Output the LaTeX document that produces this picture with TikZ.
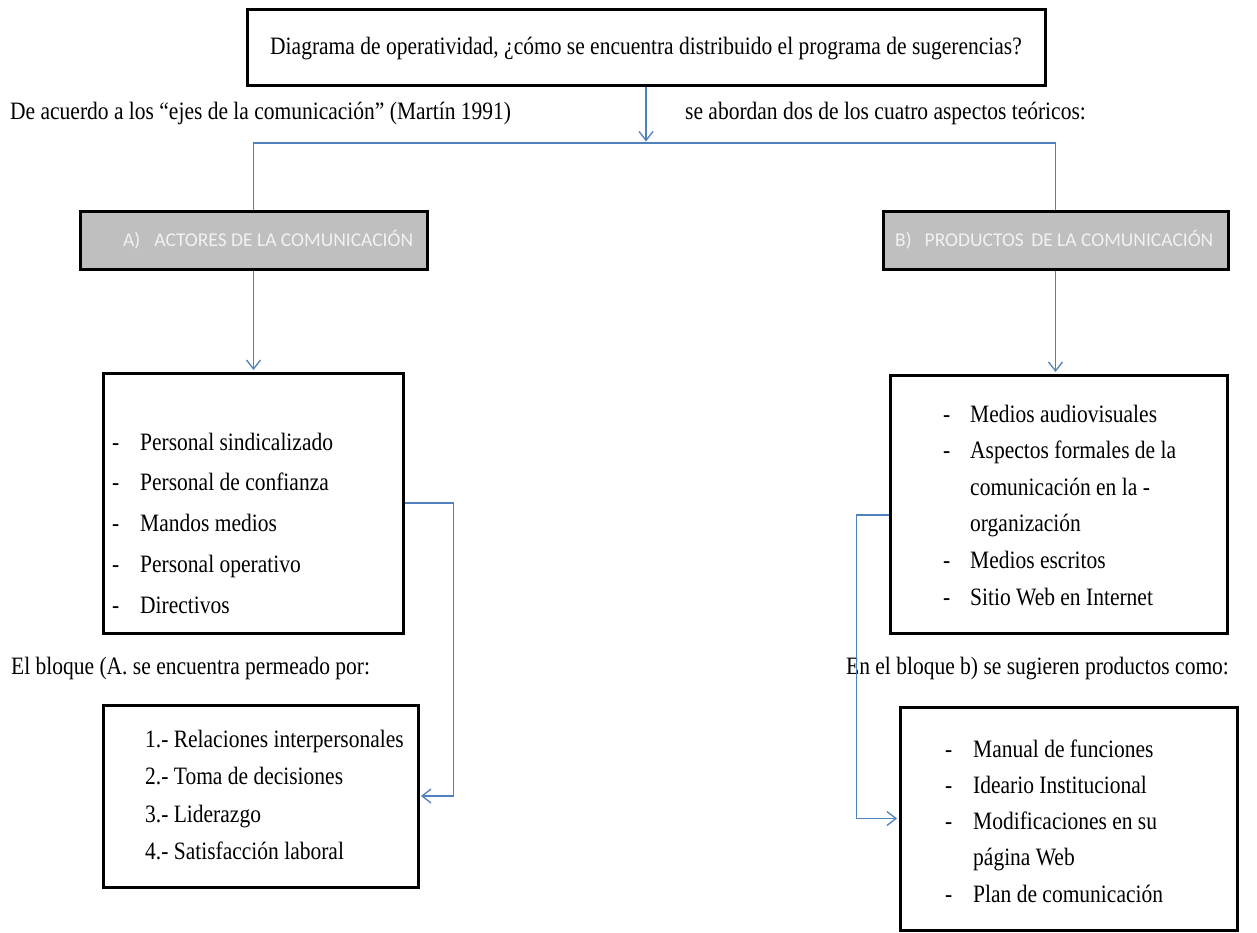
\documentclass[tikz,border=0pt]{standalone}
\usepackage{fontspec}
\setmainfont{Liberation Serif}[FakeStretch=0.86]
\newfontfamily\hdrfont{Carlito}
\usetikzlibrary{arrows.meta}
\definecolor{connc}{HTML}{4F81BD}
\definecolor{hdrfill}{HTML}{BFBFBF}
\definecolor{hdrtext}{HTML}{F2F2F2}
\tikzset{
  box/.style={draw=black, line width=3pt, fill=white, inner sep=0pt},
  hdrbox/.style={draw=black, line width=3pt, fill=hdrfill, inner sep=0pt},
  conn/.style={draw=connc, line width=1.3pt},
  tip/.style={-{Straight Barb[length=9pt,width=14pt]}, shorten >=1.5pt},
  txt/.style={font=\fontsize{25}{29}\selectfont, inner sep=0pt, anchor=base west},
  ctxt/.style={font=\fontsize{25}{29}\selectfont, inner sep=0pt, anchor=base},
  hdrtxt/.style={font=\hdrfont\fontsize{19.5}{23}\selectfont, text=hdrtext, inner sep=0pt, anchor=west},
}
\begin{document}
\begin{tikzpicture}[x=1pt,y=-1pt]
\useasboundingbox (0,0) rectangle (1257,932);
\fill[white] (0,0) rectangle (1257,932);

% title
\node[box, minimum width=798pt, minimum height=76pt] (title) at (646,47) {};
\node[ctxt] (titletxt) at (646,54) {Diagrama de operatividad, ¿cómo se encuentra distribuido el programa de sugerencias?};

% labels top
\node[txt] (leftlbl) at (10,119) {De acuerdo a los “ejes de la comunicación” (Martín 1991)};
\node[txt] (rightlbl) at (685,119) {se abordan dos de los cuatro aspectos teóricos:};

% header boxes
\node[hdrbox, minimum width=347pt, minimum height=58pt] (boxA) at (253.5,240.5) {};
\node[hdrtxt] (boxAtxt) at (123,240) {A)\hspace{14pt}ACTORES DE LA COMUNICACIÓN};
\node[hdrbox, minimum width=345pt, minimum height=58pt] (boxB) at (1055.5,240.5) {};
\node[hdrtxt] (boxBtxt) at (895,240) {B)\hspace{13pt}PRODUCTOS\hspace{3pt} DE LA COMUNICACIÓN};

% list boxes
\node[box, minimum width=300pt, minimum height=260pt] (listA) at (253,503) {};
\node[box, minimum width=337pt, minimum height=258pt] (listB) at (1058.5,504) {};
\node[box, minimum width=315pt, minimum height=182pt] (smallA) at (260.5,796) {};
\node[box, minimum width=337pt, minimum height=223pt] (smallB) at (1068.5,818.5) {};

% list A items
\foreach \t [count=\i] in {Personal sindicalizado, Personal de confianza, Mandos medios, Personal operativo, Directivos}{
  \node[txt] (la\i) at (140,{450+40.8*(\i-1)}) {\t};
  \node[txt] (lad\i) at (112,{450+40.8*(\i-1)}) {-};
}

% list B items
\foreach \t [count=\i] in {Medios audiovisuales, Aspectos formales de la, comunicación en la -, organización, Medios escritos, Sitio Web en Internet}{
  \node[txt] (lb\i) at (970,{422+36.6*(\i-1)}) {\t};
}
\foreach \i in {1,2,5,6}{
  \node[txt] (lbd\i) at (943,{422+36.6*(\i-1)}) {-};
}

% small A items
\foreach \t [count=\i] in {1.- Relaciones interpersonales, 2.- Toma de decisiones, 3.- Liderazgo, 4.- Satisfacción laboral}{
  \node[txt] (sa\i) at (145,{747+37.5*(\i-1)}) {\t};
}

% small B items
\foreach \t [count=\i] in {Manual de funciones, Ideario Institucional, Modificaciones en su, página Web, Plan de comunicación}{
  \node[txt] (sb\i) at (973,{757+36.3*(\i-1)}) {\t};
}
\foreach \i in {1,2,3,5}{
  \node[txt] (sbd\i) at (945,{757+36.3*(\i-1)}) {-};
}

% block labels
\node[txt] (blkA) at (11,674) {El bloque (A. se encuentra permeado por:};
\node[txt] (blkB) at (846,674) {En el bloque b) se sugieren productos como:};

% connectors
\coordinate (hub) at (title.south |- 0,143);
\draw[conn,tip] (title.south) -- (hub);
\draw[conn] (boxA.north) |- (hub) -| (boxB.north);
\draw[conn,tip] (boxA.south) -- (boxA.south |- listA.north);
\draw[conn,tip] (boxB.south) -- (boxB.south |- listB.north);
\draw[conn,tip] (listA.east) -- ++(49,0) |- (smallA.east);
\draw[conn,tip] ([yshift=-11pt]listB.west) -- ++(-32,0) |- (smallB.west);
\end{tikzpicture}
\end{document}
